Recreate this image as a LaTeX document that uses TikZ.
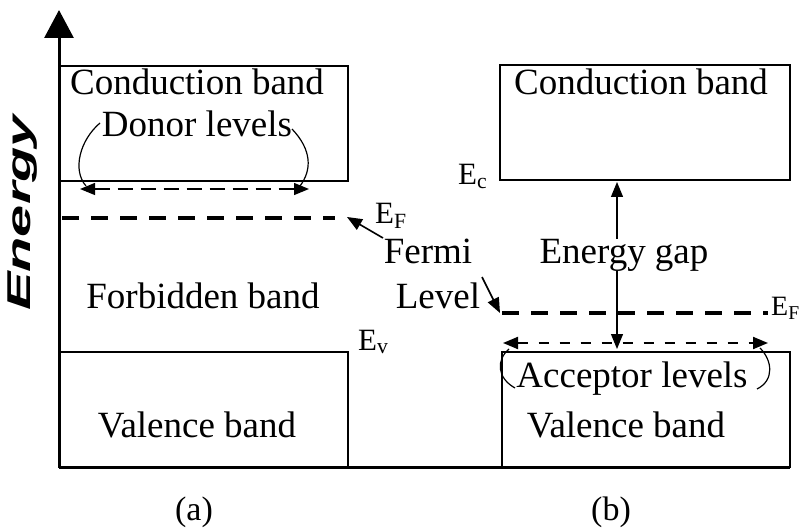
\documentclass[tikz,border=0pt]{standalone}
\usepackage{fontspec}
\setmainfont{Liberation Serif}
\newfontfamily\axisfont{Liberation Sans}
\usetikzlibrary{arrows.meta}
\begin{document}
\begin{tikzpicture}[x=1pt,y=-1pt,
  lbl/.style={font=\fontsize{37}{40}\selectfont, inner sep=0pt, anchor=base},
  elbl/.style={font=\fontsize{31}{34}\selectfont, inner sep=0pt, anchor=base west},
  band/.style={draw=black, line width=1.4pt},
  tri/.style={-{Triangle[length=15pt,width=12pt]}},
  tritwo/.style={{Triangle[length=15pt,width=12pt]}-{Triangle[length=15pt,width=12pt]}},
  fermi/.style={line width=4pt, dash pattern=on 17pt off 12pt},
  thinl/.style={line width=1.2pt}
]
\useasboundingbox (0,0) rectangle (801,532);
% axes
\coordinate (O) at (59,467);
\coordinate (T) at (59,10);
\coordinate (R) at (790,467);
\draw[line width=3pt, -{Triangle[length=28pt,width=29pt]}] (O) -- (T);
\draw[line width=3pt] (O) -- (R);
\node[rotate=90, inner sep=0pt] (en) at (23,213) {\scalebox{1.75}[1]{\axisfont\fontsize{33}{35}\selectfont\bfseries\itshape Energy}};
% bands (a)
\draw[band] (60,66) rectangle (348,181);
\draw[band] (59,352) rectangle (348,467);
% bands (b)
\draw[band] (500,65) rectangle (790,180);
\draw[band] (502,352) rectangle (790,467);
% texts (a)
\node[lbl] (cba) at (197,95) {Conduction band};
\node[lbl] (don) at (197,137) {Donor levels};
\node[lbl] (forb) at (203,308) {Forbidden band};
\node[lbl] (vba) at (197,437) {Valence band};
% texts (b)
\node[lbl] (cbb) at (641,95) {Conduction band};
\node[lbl] (acc) at (632,387) {Acceptor levels};
\node[lbl] (vbb) at (626,437) {Valence band};
\node[lbl] (fermi) at (428,263) {Fermi};
\node[lbl] (level) at (438,308) {Level};
% energy labels
\node[elbl] (efa) at (375,223) {E\textsubscript{F}};
\node[elbl, font=\fontsize{28}{30}\selectfont] (efb) at (771,315) {E\textsubscript{F}};
\node[elbl] (ec) at (458,185) {E\textsubscript{c}};
\node[elbl] (ev) at (358,350) {E\textsubscript{v}};
% captions
\node[lbl, font=\fontsize{34}{38}\selectfont] (capa) at (194,520) {(a)};
\node[lbl, font=\fontsize{34}{38}\selectfont] (capb) at (611,520) {(b)};
% Fermi levels
\coordinate (fa1) at (62,218);
\coordinate (fa2) at (335,218);
\coordinate (fb1) at (502,313);
\coordinate (fb2) at (768,313);
\draw[fermi] (fa1) -- (fa2);
\draw[fermi] (fb1) -- (fb2);
% donor levels
\coordinate (d1) at (80,189);
\coordinate (d2) at (309,189);
\draw[thinl, dash pattern=on 15pt off 8pt, tritwo] (d1) -- (d2);
\draw[thinl] (100,123) .. controls (80,140) and (72,170) .. (86,186);
\draw[thinl] (292,129) .. controls (312,150) and (312,170) .. (300,186);
% acceptor levels
\coordinate (a1) at (503,343);
\coordinate (a2) at (768,343);
\draw[line width=2pt, dash pattern=on 10pt off 11pt, tritwo] (a1) -- (a2);
\draw[thinl] (509,349) .. controls (496,360) and (497,378) .. (515,388);
\draw[thinl] (757,389) .. controls (775,380) and (772,360) .. (760,348);
% energy gap
\coordinate (g1) at (617,182);
\coordinate (g2) at (617,349);
\draw[thinl, tritwo] (g2) -- (g1);
\node[lbl, fill=white, inner xsep=2pt] (gap) at (624,263) {Energy gap};
% Fermi pointers
\coordinate (fp1) at (347,217);
\coordinate (fp2) at (500,313);
\draw[line width=1.6pt, tri] (383,238) -- (fp1);
\draw[line width=1.6pt, tri] (482,277) -- (fp2);
\end{tikzpicture}
\end{document}
